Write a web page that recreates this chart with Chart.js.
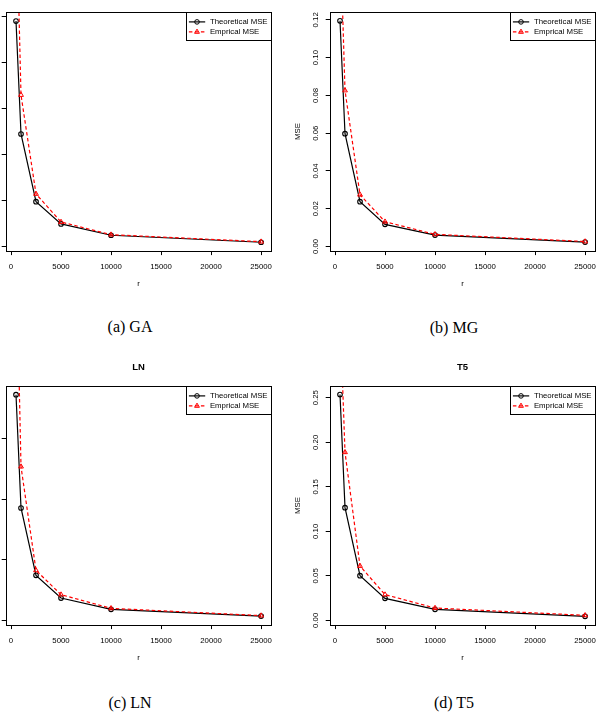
<!DOCTYPE html>
<html>
<head>
<meta charset="utf-8">
<script src="https://cdn.jsdelivr.net/npm/chart.js@4.4.1/dist/chart.umd.min.js"></script>
<style>
  html, body { margin: 0; padding: 0; background: #fff; }
  body { width: 601px; height: 712px; position: relative; overflow: hidden; }
  canvas { position: absolute; }
  .cap {
    position: absolute;
    font-family: "Liberation Serif", "DejaVu Serif", serif;
    font-size: 16px;
    color: #000;
    transform: translate(-50%, -50%);
    white-space: nowrap;
  }
</style>
</head>
<body>
<canvas id="chartGA" width="320" height="310" style="left:-44px;top:-14px"></canvas>
<canvas id="chartMG" width="320" height="310" style="left:280px;top:-14px"></canvas>
<canvas id="chartLN" width="320" height="310" style="left:-44px;top:360px"></canvas>
<canvas id="chartT5" width="320" height="310" style="left:280px;top:360px"></canvas>

<div class="cap" style="left:130px;top:327px">(a) GA</div>
<div class="cap" style="left:454px;top:328px">(b) MG</div>
<div class="cap" style="left:130px;top:703px">(c) LN</div>
<div class="cap" style="left:454px;top:703px">(d) T5</div>

<script>
// sample sizes r and the x axis ticks
const rVals = [500, 1000, 2500, 5000, 10000, 25000];
const xTicks = [0, 5000, 10000, 15000, 20000, 25000];
const xLim = [-480, 25980];

const seriesNames = ['Theoretical MSE', 'Emprical MSE'];

// GA
const theoGA = [0.2453, 0.1225, 0.0489, 0.0247, 0.0124, 0.0048];
const empGA = [0.385, 0.1649, 0.0573, 0.0268, 0.0130, 0.0054];
const yTicksGA = [0, 0.05, 0.10, 0.15, 0.20, 0.25];
const yLimGA = [-0.0043, 0.2548];

// MG
const theoMG = [0.1195, 0.0597, 0.0237, 0.0117, 0.0060, 0.0023];
const empMG = [0.170, 0.0826, 0.0274, 0.0131, 0.0064, 0.0026];
const yTicksMG = [0, 0.02, 0.04, 0.06, 0.08, 0.10, 0.12];
const yLimMG = [-0.0022, 0.1240];

// LN
const theoLN = [0.186, 0.0926, 0.0371, 0.0184, 0.0091, 0.0035];
const empLN = [0.316, 0.1267, 0.0412, 0.0212, 0.0099, 0.0039];
const yTicksLN = [0, 0.05, 0.10, 0.15];
const yLimLN = [-0.0035, 0.1929];

// T5
const theoT5 = [0.2536, 0.1266, 0.0502, 0.0247, 0.0124, 0.0045];
const empT5 = [0.346, 0.1888, 0.061, 0.0289, 0.0138, 0.0056];
const yTicksT5 = [0, 0.05, 0.10, 0.15, 0.20, 0.25];
const yLimT5 = [-0.0048, 0.2629];

const FONT = '"Liberation Sans", Arial, sans-serif';
const FRAME_TOP = 26.3;
const FRAME_H = 238.3;
const AXIS_W = 50.2;
const CANVAS_H = 310;

// box round the plot, title over it and the R style legend in the corner
const rDecor = {
  id: 'rDecor',
  afterDraw(chart, args, opts) {
    const ctx = chart.ctx;
    const a = chart.chartArea;
    ctx.save();
    ctx.strokeStyle = '#000';
    ctx.lineWidth = 1;
    const l = Math.round(a.left) + 0.5, t = Math.round(a.top) + 0.5;
    const r = Math.round(a.right) + 0.5, b = Math.round(a.bottom) + 0.5;
    ctx.strokeRect(l, t, r - l, b - t);

    if (opts.title) {
      ctx.fillStyle = '#000';
      ctx.font = 'bold 9.5px ' + FONT;
      ctx.textAlign = 'center';
      ctx.textBaseline = 'middle';
      ctx.fillText(opts.title, (a.left + a.right) / 2, 7.7);
    }

    ctx.font = '7.8px ' + FONT;
    const sets = chart.data.datasets;
    const tw = Math.max(...sets.map(d => ctx.measureText(d.label).width));
    const w = Math.round(tw + 27.4), h = 28;
    const x0 = r - w, y0 = t;
    ctx.fillStyle = '#fff';
    ctx.fillRect(x0, y0, w, h);
    ctx.strokeStyle = '#000';
    ctx.lineWidth = 1;
    ctx.strokeRect(x0, y0, w, h);

    sets.forEach((d, i) => {
      const y = y0 + 9.4 + i * 10;
      ctx.strokeStyle = d.borderColor;
      ctx.lineWidth = d.borderWidth;
      ctx.setLineDash(d.borderDash || []);
      ctx.beginPath();
      ctx.moveTo(x0 + 2.4, y);
      ctx.lineTo(x0 + 18.7, y);
      ctx.stroke();
      ctx.setLineDash([]);
      ctx.lineWidth = 1;
      const cx = x0 + 10.5;
      ctx.beginPath();
      if (d.pointStyle === 'triangle') {
        const rad = d.pointRadius;
        ctx.moveTo(cx, y - rad);
        ctx.lineTo(cx + rad * 0.87, y + rad * 0.5);
        ctx.lineTo(cx - rad * 0.87, y + rad * 0.5);
        ctx.closePath();
      } else {
        ctx.arc(cx, y, d.pointRadius, 0, Math.PI * 2);
      }
      ctx.stroke();
      ctx.fillStyle = '#000';
      ctx.textAlign = 'left';
      ctx.textBaseline = 'middle';
      ctx.fillText(d.label, x0 + 23.4, y);
    });
    ctx.restore();
  }
};

// keep the plot frame where it is, whatever room the tick labels ask for
function noPad(s) {
  s.paddingLeft = 0;
  s.paddingRight = 0;
  s.paddingTop = 0;
  s.paddingBottom = 0;
}

function makePanel(id, title, theo, emp, yTicks, yLim) {
  const ctx = document.getElementById(id).getContext('2d');
  return new Chart(ctx, {
    type: 'line',
    data: {
      datasets: [{
        label: seriesNames[0],
        data: rVals.map((r, i) => ({x: r, y: theo[i]})),
        borderColor: '#000',
        borderWidth: 1.2,
        pointStyle: 'circle',
        pointRadius: 2.3,
        pointBorderWidth: 1.1,
        pointBorderColor: '#000',
        pointBackgroundColor: 'rgba(0,0,0,0)',
        tension: 0,
        order: 1
      }, {
        label: seriesNames[1],
        data: rVals.map((r, i) => ({x: r, y: emp[i]})),
        borderColor: '#ff0000',
        borderWidth: 1.2,
        borderDash: [3.5, 2.5],
        pointStyle: 'triangle',
        pointRadius: 2.8,
        pointBorderWidth: 1,
        pointBorderColor: '#ff0000',
        pointBackgroundColor: 'rgba(0,0,0,0)',
        tension: 0,
        order: 0
      }]
    },
    options: {
      responsive: false,
      animation: false,
      layout: {
        padding: {top: FRAME_TOP, left: 0, right: 3.4, bottom: 0}
      },
      scales: {
        x: {
          type: 'linear',
          min: xLim[0],
          max: xLim[1],
          afterBuildTicks: s => { s.ticks = xTicks.map(v => ({value: v})); },
          afterFit: s => { s.height = CANVAS_H - FRAME_TOP - FRAME_H; noPad(s); },
          border: {display: false},
          grid: {
            display: true,
            drawOnChartArea: false,
            drawTicks: true,
            tickLength: 4.5,
            color: '#000',
            lineWidth: 1
          },
          ticks: {
            color: '#000',
            font: {family: FONT, size: 7.8},
            padding: 7,
            maxRotation: 0,
            autoSkip: false,
            callback: v => String(v)
          },
          title: {
            display: true,
            text: 'r',
            color: '#000',
            font: {family: FONT, size: 7.8},
            padding: {top: 0, bottom: 7.7}
          }
        },
        y: {
          type: 'linear',
          min: yLim[0],
          max: yLim[1],
          afterBuildTicks: s => { s.ticks = yTicks.map(v => ({value: v})); },
          afterFit: s => { s.width = AXIS_W; noPad(s); },
          border: {display: false},
          grid: {
            display: true,
            drawOnChartArea: false,
            drawTicks: true,
            tickLength: 4.5,
            color: '#000',
            lineWidth: 1
          },
          ticks: {
            color: '#000',
            font: {family: FONT, size: 7.8},
            padding: 2,
            minRotation: 90,
            maxRotation: 90,
            crossAlign: 'center',
            autoSkip: false,
            callback: v => v.toFixed(2)
          },
          title: {
            display: true,
            text: 'MSE',
            color: '#000',
            font: {family: FONT, size: 7.8},
            padding: {top: 13.2, bottom: 0}
          }
        }
      },
      plugins: {
        legend: {display: false},
        tooltip: {enabled: false},
        rDecor: {title: title}
      }
    },
    plugins: [rDecor]
  });
}

makePanel('chartGA', null, theoGA, empGA, yTicksGA, yLimGA);
makePanel('chartMG', null, theoMG, empMG, yTicksMG, yLimMG);
makePanel('chartLN', 'LN', theoLN, empLN, yTicksLN, yLimLN);
makePanel('chartT5', 'T5', theoT5, empT5, yTicksT5, yLimT5);
</script>
</body>
</html>
